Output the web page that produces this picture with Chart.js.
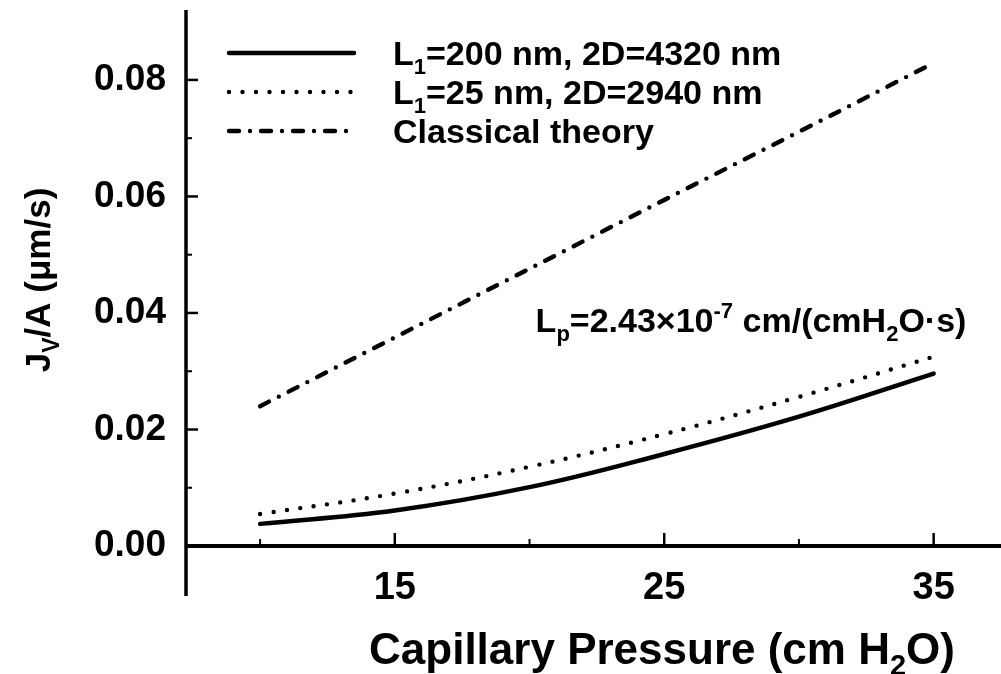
<!DOCTYPE html>
<html>
<head>
<meta charset="utf-8">
<script src="https://cdn.jsdelivr.net/npm/chart.js@4.4.1/dist/chart.umd.min.js"></script>
<style>
html,body{margin:0;padding:0;background:#fff;}
#wrap{width:1001px;height:674px;position:relative;}
</style>
</head>
<body>
<div id="wrap"><canvas id="c"></canvas></div>
<script>
// ---- data ----
const pressure = [10, 15, 20, 25, 30, 35];
const solidL200 = [0.0038, 0.0061, 0.0101, 0.0158, 0.0222, 0.0296];
const dottedL25 = [0.0055, 0.0090, 0.0136, 0.0192, 0.0256, 0.0325];
const classical = [0.0240, 0.0358, 0.0476, 0.0594, 0.0711, 0.0829];
const seriesNames = ['L|1|=200 nm, 2D=4320 nm', 'L|1|=25 nm, 2D=2940 nm', 'Classical theory'];
const xMajorTicks = [15, 25, 35];
const xMinorTicks = [10, 20, 30];
const yMajorTicks = [0, 0.02, 0.04, 0.06, 0.08];
const yMinorTicks = [0.01, 0.03, 0.05, 0.07];
const yTickLabels = ['0.00', '0.02', '0.04', '0.06', '0.08'];
const xTickLabels = ['15', '25', '35'];
const yAxisEnd = -0.0086;

const FONT = '"Liberation Sans", Arial, Helvetica, sans-serif';
const pts = arr => pressure.map((p, i) => ({x: p, y: arr[i]}));

function drawRich(ctx, text, x, y, size, align) {
  const parts = [];
  const re = /\|([^|]*)\||\^([^^]*)\^|([^|^]+)/g;
  let m;
  while ((m = re.exec(text))) {
    if (m[1] !== undefined) parts.push({t: m[1], k: 'sub'});
    else if (m[2] !== undefined) parts.push({t: m[2], k: 'sup'});
    else parts.push({t: m[3], k: 'n'});
  }
  const small = Math.round(size * 0.66);
  let w = 0;
  parts.forEach(p => {
    ctx.font = 'bold ' + (p.k === 'n' ? size : small) + 'px ' + FONT;
    p.w = ctx.measureText(p.t).width;
    w += p.w;
  });
  let cx = align === 'center' ? x - w / 2 : (align === 'right' ? x - w : x);
  ctx.textBaseline = 'alphabetic';
  ctx.textAlign = 'left';
  parts.forEach(p => {
    ctx.font = 'bold ' + (p.k === 'n' ? size : small) + 'px ' + FONT;
    let dy = 0;
    if (p.k === 'sub') dy = size * 0.25;
    if (p.k === 'sup') dy = -size * 0.4;
    ctx.fillText(p.t, cx, y + dy);
    cx += p.w;
  });
}

const decor = {
  id: 'decor',
  afterDraw(chart) {
    const ctx = chart.ctx;
    const xs = chart.scales.x, ys = chart.scales.y;
    const ca = chart.chartArea;
    ctx.save();
    ctx.strokeStyle = '#000';
    ctx.fillStyle = '#000';
    ctx.lineCap = 'butt';
    const xl = ca.left;
    ctx.lineWidth = 3.5;
    ctx.beginPath();
    ctx.moveTo(xl, ys.getPixelForValue(ys.max));
    ctx.lineTo(xl, ys.getPixelForValue(yAxisEnd));
    ctx.stroke();
    const y0 = ys.getPixelForValue(0);
    ctx.lineWidth = 4;
    ctx.beginPath();
    ctx.moveTo(xl, y0);
    ctx.lineTo(ca.right, y0);
    ctx.stroke();
    ctx.lineWidth = 2.5;
    yMajorTicks.forEach(v => {
      const py = ys.getPixelForValue(v);
      ctx.beginPath(); ctx.moveTo(xl, py); ctx.lineTo(xl + 12, py); ctx.stroke();
    });
    ctx.lineWidth = 2;
    yMinorTicks.forEach(v => {
      const py = ys.getPixelForValue(v);
      ctx.beginPath(); ctx.moveTo(xl, py); ctx.lineTo(xl + 6, py); ctx.stroke();
    });
    ctx.lineWidth = 2.5;
    xMajorTicks.forEach(v => {
      const px = xs.getPixelForValue(v);
      ctx.beginPath(); ctx.moveTo(px, y0); ctx.lineTo(px, y0 - 13); ctx.stroke();
    });
    ctx.lineWidth = 2;
    xMinorTicks.forEach(v => {
      const px = xs.getPixelForValue(v);
      ctx.beginPath(); ctx.moveTo(px, y0); ctx.lineTo(px, y0 - 7); ctx.stroke();
    });
    // legend
    const rows = [53, 92, 131];
    chart.data.datasets.forEach((ds, i) => {
      const ly = rows[i];
      ctx.save();
      ctx.strokeStyle = ds.borderColor;
      ctx.lineWidth = ds.borderWidth;
      ctx.lineCap = ds.borderCapStyle || 'butt';
      ctx.setLineDash(ds.borderDash || []);
      ctx.beginPath(); ctx.moveTo(229, ly); ctx.lineTo(354, ly); ctx.stroke();
      ctx.restore();
      drawRich(ctx, seriesNames[i], 393, ly + 12, 34, 'left');
    });
    drawRich(ctx, 'L|p|=2.43\u00D710^-7^ cm/(cmH|2|O\u00B7s)', 751, 332, 34, 'center');
    drawRich(ctx, 'Capillary Pressure (cm H|2|O)', 662, 664, 44, 'center');
    ctx.save();
    ctx.translate(50, 280);
    ctx.rotate(-Math.PI / 2);
    drawRich(ctx, 'J|V|/A (\u03BCm/s)', 0, 0, 35, 'center');
    ctx.restore();
    ctx.restore();
  }
};

new Chart(document.getElementById('c'), {
  type: 'line',
  data: {
    datasets: [
      {label: 'L1=200 nm, 2D=4320 nm', data: pts(solidL200), borderColor: '#000', borderWidth: 4.5,
       pointRadius: 0, tension: 0.4, fill: false, borderCapStyle: 'round'},
      {label: 'L1=25 nm, 2D=2940 nm', data: pts(dottedL25), borderColor: '#000', borderWidth: 4.4,
       pointRadius: 0, tension: 0.4, fill: false, borderDash: [0, 13.5], borderCapStyle: 'round'},
      {label: 'Classical theory', data: pts(classical), borderColor: '#000', borderWidth: 4.4,
       pointRadius: 0, fill: false, borderDash: [10, 11, 0, 11], borderCapStyle: 'round'}
    ]
  },
  options: {
    responsive: true,
    maintainAspectRatio: false,
    animation: false,
    layout: {padding: {top: 10, right: 0, left: 0, bottom: 0}},
    plugins: {legend: {display: false}, tooltip: {enabled: false}},
    scales: {
      x: {
        type: 'linear', min: 7.25, max: 37.5,
        grid: {display: false, drawTicks: false}, border: {display: false},
        afterBuildTicks: s => { s.ticks = xMajorTicks.map(v => ({value: v})); },
        afterFit: s => { s.height = 108; s.paddingLeft = 0; s.paddingRight = 0; },
        ticks: {padding: 0, color: '#000', font: {family: FONT, size: 38, weight: 'bold'},
                callback: v => xTickLabels[xMajorTicks.indexOf(v)]}
      },
      y: {
        type: 'linear', min: -0.00343, max: 0.092,
        grid: {display: false, drawTicks: false}, border: {display: false},
        afterBuildTicks: s => { s.ticks = yMajorTicks.map(v => ({value: v})); },
        afterFit: s => { s.width = 186; s.paddingTop = 0; s.paddingBottom = 0; },
        ticks: {padding: 20, color: '#000', font: {family: FONT, size: 37, weight: 'bold'},
                callback: v => { const i = yMajorTicks.findIndex(t => Math.abs(t - v) < 1e-9); return i >= 0 ? yTickLabels[i] : ''; }}
      }
    }
  },
  plugins: [decor]
});
</script>
</body>
</html>
